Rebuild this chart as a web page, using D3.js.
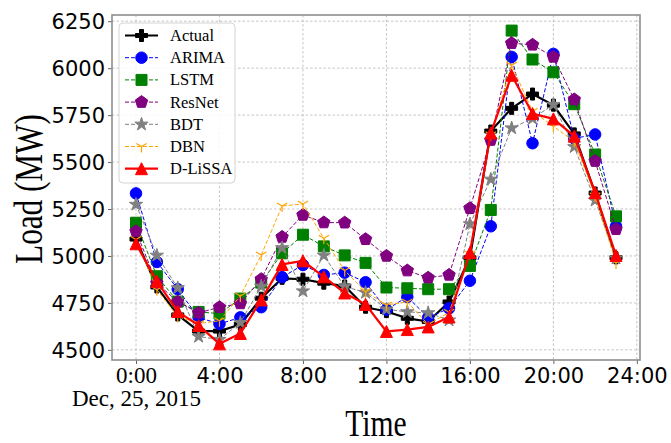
<!DOCTYPE html>
<html>
<head>
<meta charset="utf-8">
<script src="https://cdn.jsdelivr.net/npm/d3@7"></script>
<style>
  body { margin: 0; background: #fff; }
  svg { display: block; }
</style>
</head>
<body>
<svg id="chart" width="671" height="443"></svg>
<script>
// Hourly load on Dec 25, 2015: measured load and model forecasts (MW)
const hours = [0, 1, 2, 3, 4, 5, 6, 7, 8, 9, 10, 11, 12, 13, 14, 15, 16, 17, 18, 19, 20, 21, 22, 23];

const actual = [5090, 4835, 4686, 4600, 4600, 4635, 4775, 4881, 4876, 4855, 4840, 4727,
                4704, 4668, 4651, 4755, 4990, 5665, 5786, 5862, 5803, 5650, 5335, 4990];
const arima  = [5333, 4968, 4823, 4672, 4638, 4673, 4727, 4887, 4952, 4899, 4911, 4860,
                4714, 4782, 4672, 4721, 4868, 5158, 6060, 5600, 6076, 5626, 5647, 5158];
const lstm   = [5177, 4892, 4757, 4702, 4693, 4773, 4858, 5014, 5113, 5051, 5003, 4963,
                4832, 4828, 4823, 4823, 4947, 5245, 6200, 6046, 5978, 5808, 5540, 5211];
const resnet = [5131, 4855, 4756, 4697, 4727, 4747, 4876, 5101, 5218, 5178, 5177, 5089,
                5000, 4922, 4884, 4899, 5254, 5617, 6133, 6124, 6060, 5833, 5505, 5142];
const bdt    = [5274, 5003, 4830, 4571, 4555, 4645, 4838, 5043, 4813, 5003, 4837, 4805,
                4716, 4702, 4697, 4658, 5170, 5408, 5681, 5732, 5806, 5581, 5296, 4988];
const dbn    = [5088, 4820, 4677, 4640, 4655, 4787, 5005, 5266, 5277, 5094, 4922, 4810,
                4739, 4755, 4635, 4700, 5010, 5645, 6016, 5770, 5690, 5610, 5320, 4962];
const dlissa = [5065, 4865, 4704, 4630, 4532, 4587, 4766, 4955, 4974, 4889, 4803, 4742,
                4598, 4608, 4622, 4675, 5018, 5655, 5962, 5758, 5730, 5638, 5337, 5003];

const xTicks = [0, 4, 8, 12, 16, 20, 24];
const xTickLabels = ["0:00", "4:00", "8:00", "12:00", "16:00", "20:00", "24:00"];
const firstTickDate = "Dec, 25, 2015";
const yTicks = [4500, 4750, 5000, 5250, 5500, 5750, 6000, 6250];

const seriesNames = ["Actual", "ARIMA", "LSTM", "ResNet", "BDT", "DBN", "D-LiSSA"];
const seriesValues = [actual, arima, lstm, resnet, bdt, dbn, dlissa];

// Styling per series
const styles = {
  "Actual":  { color: "#000000", dash: null,  width: 2.2, marker: "plus",     ms: 12 },
  "ARIMA":   { color: "#0000ff", dash: "4,2", width: 1,   marker: "circle",   ms: 11.5 },
  "LSTM":    { color: "#008000", dash: "4,2", width: 1,   marker: "square",   ms: 11 },
  "ResNet":  { color: "#800080", dash: "4,2", width: 1,   marker: "pentagon", ms: 13 },
  "BDT":     { color: "#808080", dash: "4,2", width: 1,   marker: "star",     ms: 14 },
  "DBN":     { color: "#ffa500", dash: "4,2", width: 1,   marker: "tridown",  ms: 12 },
  "D-LiSSA": { color: "#ff0000", dash: null,  width: 2.2, marker: "triangle", ms: 12 }
};

const series = seriesNames.map((name, i) => ({ name, values: seriesValues[i], ...styles[name] }));

const svg = d3.select("#chart");
const plot = { left: 112, right: 640, top: 15, bottom: 360 };

const x = d3.scaleLinear().domain([-1.15, 24.15]).range([plot.left, plot.right]);
const y = d3.scaleLinear().domain([4446, 6283]).range([plot.bottom, plot.top]);

// Marker shapes, drawn around the origin
function markerPath(type, s) {
  const h = s / 2;
  if (type === "plus") {
    const t = s / 6;
    return `M${-t},${-h}H${t}V${-t}H${h}V${t}H${t}V${h}H${-t}V${t}H${-h}V${-t}H${-t}Z`;
  }
  if (type === "square") return `M${-h},${-h}H${h}V${h}H${-h}Z`;
  if (type === "triangle") return `M0,${-h}L${-h},${h}L${h},${h}Z`;
  if (type === "pentagon") {
    const pts = d3.range(5).map(k => {
      const a = -Math.PI / 2 + k * 2 * Math.PI / 5;
      return [h * Math.cos(a), h * Math.sin(a)];
    });
    return "M" + pts.map(p => p.join(",")).join("L") + "Z";
  }
  if (type === "star") {
    const pts = d3.range(10).map(k => {
      const a = -Math.PI / 2 + k * Math.PI / 5;
      const r = k % 2 === 0 ? h : h * 0.381966;
      return [r * Math.cos(a), r * Math.sin(a)];
    });
    return "M" + pts.map(p => p.join(",")).join("L") + "Z";
  }
  if (type === "tridown") {
    return `M0,0V${h}M0,0L${-0.866 * h},${-0.5 * h}M0,0L${0.866 * h},${-0.5 * h}`;
  }
  // circle
  return `M${h},0A${h},${h} 0 1,1 ${-h},0A${h},${h} 0 1,1 ${h},0Z`;
}

function drawMarker(sel, s) {
  const open = s.marker === "tridown";
  sel.append("path")
    .attr("d", markerPath(s.marker, s.ms))
    .attr("fill", open ? "none" : s.color)
    .attr("stroke", s.color)
    .attr("stroke-width", open ? 1.2 : 1)
    .attr("stroke-linejoin", "miter");
}

// Grid lines
const grid = svg.append("g").attr("class", "grid");
grid.selectAll("line.gx").data(xTicks).join("line")
  .attr("class", "gx")
  .attr("x1", d => x(d)).attr("x2", d => x(d))
  .attr("y1", plot.top).attr("y2", plot.bottom);
grid.selectAll("line.gy").data(yTicks).join("line")
  .attr("class", "gy")
  .attr("x1", plot.left).attr("x2", plot.right)
  .attr("y1", d => y(d)).attr("y2", d => y(d));
grid.selectAll("line")
  .attr("stroke", "#b8b8b8")
  .attr("stroke-width", 0.8)
  .attr("stroke-dasharray", "2.5,2");

// Axes
const xAxis = d3.axisBottom(x).tickValues(xTicks).tickSize(4).tickPadding(4)
  .tickFormat((d, i) => xTickLabels[i]);
const yAxis = d3.axisLeft(y).tickValues(yTicks).tickSize(4).tickPadding(4)
  .tickFormat(d => String(d));

const gx = svg.append("g").attr("transform", `translate(0,${plot.bottom})`).call(xAxis);
const gy = svg.append("g").attr("transform", `translate(${plot.left},0)`).call(yAxis);

[gx, gy].forEach(g => {
  g.select(".domain").remove();
  g.selectAll(".tick line").attr("stroke", "#555").attr("stroke-width", 0.9);
  g.selectAll(".tick text")
    .attr("fill", "#000")
    .style("font-family", "'DejaVu Sans', sans-serif")
    .style("font-size", "21px");
});

gy.selectAll(".tick text").attr("dy", "0.36em").attr("x", -7);

gx.selectAll(".tick text").attr("dy", null).attr("y", 23);

// First x tick: time and date in a serif face, on two lines
gx.selectAll(".tick text").filter((d, i) => i === 0).each(function () {
  const t = d3.select(this);
  t.text(null)
    .style("font-family", "'Liberation Serif', 'Times New Roman', serif")
    .style("font-size", "23px");
  t.append("tspan").attr("x", 0).attr("y", 23).text(xTickLabels[0]);
  t.append("tspan").attr("x", 0).attr("y", 46).text(firstTickDate);
});

// Plot frame
svg.append("rect")
  .attr("x", plot.left).attr("y", plot.top)
  .attr("width", plot.right - plot.left).attr("height", plot.bottom - plot.top)
  .attr("fill", "none").attr("stroke", "#8e8e8e").attr("stroke-width", 1.6);

// Series lines and markers
const line = d3.line().x((d, i) => x(hours[i])).y(d => y(d));
series.forEach(s => {
  const g = svg.append("g").attr("class", "series");
  g.append("path")
    .attr("d", line(s.values))
    .attr("fill", "none")
    .attr("stroke", s.color)
    .attr("stroke-width", s.width)
    .attr("stroke-dasharray", s.dash)
    .attr("stroke-linejoin", "round");
  g.selectAll("g.pt").data(s.values).join("g")
    .attr("class", "pt")
    .attr("transform", (d, i) => `translate(${x(hours[i])},${y(d)})`)
    .each(function () { drawMarker(d3.select(this), s); });
});

// Axis titles
svg.append("text")
  .attr("transform", `translate(${(plot.left + plot.right) / 2},436) scale(0.8,1)`)
  .attr("text-anchor", "middle")
  .style("font-family", "'Liberation Serif', 'Times New Roman', serif")
  .style("font-size", "37px")
  .text("Time");

svg.append("text")
  .attr("transform", `translate(42,189) rotate(-90) scale(0.78,1)`)
  .attr("text-anchor", "middle")
  .style("font-family", "'Liberation Serif', 'Times New Roman', serif")
  .style("font-size", "40px")
  .text("Load (MW)");

// Legend
const legend = svg.append("g").attr("class", "legend");
legend.append("rect")
  .attr("x", 119).attr("y", 23).attr("width", 116).attr("height", 160)
  .attr("rx", 4)
  .attr("fill", "#fff").attr("fill-opacity", 0.85)
  .attr("stroke", "#d4d4d4").attr("stroke-width", 1);

const rowY0 = 35.5, rowStep = 22.2;
series.forEach((s, i) => {
  const yy = rowY0 + i * rowStep;
  const row = legend.append("g");
  row.append("line")
    .attr("x1", 125).attr("x2", 158).attr("y1", yy).attr("y2", yy)
    .attr("stroke", s.color).attr("stroke-width", s.width)
    .attr("stroke-dasharray", s.dash);
  const m = row.append("g").attr("transform", `translate(141.5,${yy})`);
  drawMarker(m, s);
  row.append("text")
    .attr("x", 170).attr("y", yy + 5.5)
    .style("font-family", "'Liberation Serif', 'Times New Roman', serif")
    .style("font-size", "16.5px")
    .text(s.name);
});
</script>
</body>
</html>
